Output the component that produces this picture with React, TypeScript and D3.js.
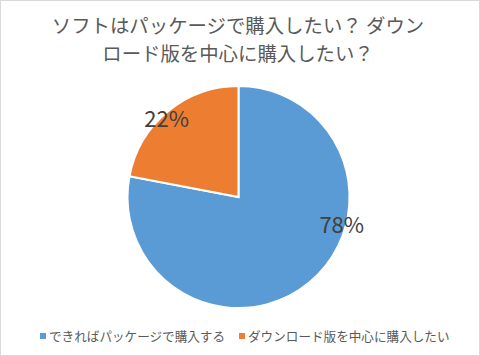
import React from "react";
import * as d3 from "d3";

const categories = ["できればパッケージで購入する", "ダウンロード版を中心に購入したい"];
const values = [78, 22];
const colors = ["#5B9BD5", "#ED7D31"];
const titleLines = ["ソフトはパッケージで購入したい？ ダウン", "ロード版を中心に購入したい？"];

export default function App() {
  const W = 480, H = 356;
  const cx = 238.5, cy = 197, r = 111;
  const pie = d3.pie<number>().sort(null).value((d) => d);
  const arcs = pie(values);
  const arc = d3.arc<d3.PieArcDatum<number>>().innerRadius(0).outerRadius(r);
  // label placement (Excel best-fit): angle offset from slice middle, and radius factor
  const labelPlace = [
    { offset: -0.63, rf: 0.96 },
    { offset: -0.04, rf: 0.97 },
  ];
  const font = "'Noto Sans CJK JP', 'Noto Sans', sans-serif";
  const legendX = [40, 239];
  return (
    <svg width={W} height={H} style={{ position: "absolute", left: 0, top: 0 }}>
      <rect x={0.5} y={0.5} width={W - 1} height={H - 1} fill="#fff" stroke="#d9d9d9" />
      {titleLines.map((t, i) => (
        <text key={i} x={238} y={33 + i * 28} textAnchor="middle" fontSize={19.4} fill="#595959" fontFamily={font}>{t}</text>
      ))}
      <g transform={`translate(${cx},${cy})`}>
        {arcs.map((a, i) => (
          <path key={i} d={arc(a) || ""} fill={colors[i]} stroke="#fff" strokeWidth={2} />
        ))}
        {arcs.map((a, i) => {
          const mid = (a.startAngle + a.endAngle) / 2 + labelPlace[i].offset;
          const [x, y] = d3.pointRadial(mid, r * labelPlace[i].rf);
          return (
            <text key={"l" + i} x={x} y={y} textAnchor="middle" dominantBaseline="central" fontSize={22} fill="#404040" fontFamily={font}>{values[i]}%</text>
          );
        })}
      </g>
      {categories.map((c, i) => (
        <g key={c}>
          <rect x={legendX[i]} y={333} width={6} height={6} fill={colors[i]} />
          <text x={legendX[i] + 9} y={341} fontSize={12.6} fill="#595959" fontFamily={font}>{c}</text>
        </g>
      ))}
    </svg>
  );
}
